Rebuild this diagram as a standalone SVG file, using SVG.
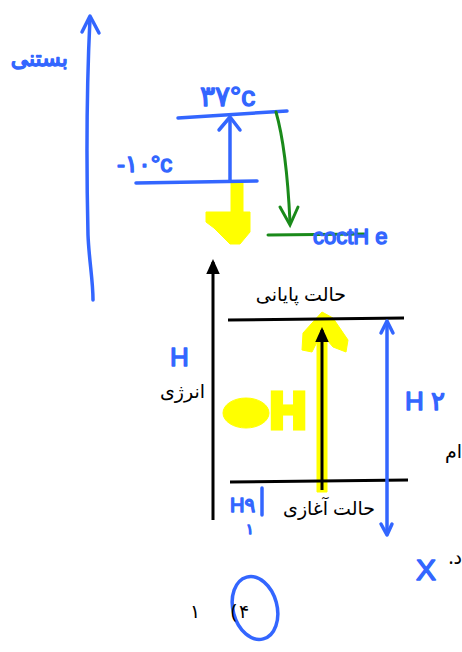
<svg xmlns="http://www.w3.org/2000/svg" width="462" height="652" viewBox="0 0 462 652">
<style>
.ink{fill:none;stroke:#3366ff;stroke-width:3.5;stroke-linecap:round;stroke-linejoin:round}
.grn{fill:none;stroke:#1a8a1a;stroke-width:3;stroke-linecap:round}
.blk{fill:none;stroke:#000;stroke-width:3}
.hand{font-family:"Liberation Sans","DejaVu Sans",sans-serif;fill:#3366ff;stroke:#3366ff;stroke-width:1.4;stroke-linejoin:round}
.fa{font-family:"Noto Sans","DejaVu Sans",sans-serif;fill:#000;font-size:19px}
.yel{fill:#ffff00;stroke:#ffff00}
</style>
<defs>
<marker id="ab" viewBox="0 0 10 10" refX="8" refY="5" markerWidth="5" markerHeight="5" orient="auto"><path d="M0,0.5 L10,5 L0,9.5 z" fill="#000"/></marker>
</defs>
<rect width="462" height="652" fill="#fff"/>

<g id="highlights">
<path class="yel" d="M231,183 L243,183 L243,212 L250,212 L250,232 L240,244 L230,244 L214,228 L206,222 L206,212 L231,212 z" stroke-width="1"/>
<path class="yel" d="M317,330 L327,330 L327,492 L317,492 z" stroke-width="1"/>
<path class="yel" d="M322,312 L333,318 L348,340 L346,352 L333,347 L327,340 L318,340 L312,352 L302,350 L303,333 z" stroke-width="1"/>
<ellipse class="yel" cx="246" cy="413" rx="23" ry="15"/>
<text x="270" y="428" style="font-family:'Liberation Sans',sans-serif;font-weight:bold;font-size:50px" class="yel" stroke-width="5">H</text>
</g>

<g id="connectors">
<path class="ink" d="M90,18 C87,80 86,150 88,235 C89,260 93,280 93,300"/>
<path class="ink" d="M82,32 L90,16 L99,33"/>
<path class="ink" d="M178,118 L287,111"/>
<path class="ink" d="M136,183 L257,181"/>
<path class="ink" d="M230,180 L230,120"/>
<path class="ink" d="M219,130 L230,117 L240,130"/>
<path class="grn" d="M276,112 C284,140 288,180 290,222"/>
<path class="grn" d="M280,207 L290,225 L298,207"/>
<path class="grn" d="M268,235 L365,234"/>
<path class="blk" d="M213,520 L213,262" marker-end="url(#ab)"/>
<path class="blk" d="M322,490 L322,330" marker-end="url(#ab)"/>
<path class="blk" stroke-width="2.2" d="M228,320 L404,318"/>
<path class="blk" stroke-width="2.2" d="M230,482 L408,480"/>
<path class="ink" stroke-width="2.5" d="M387,322 L387,534"/>
<path class="ink" stroke-width="2.5" d="M381,333 L387,321 L393,333"/>
<path class="ink" stroke-width="2.5" d="M381,524 L387,535 L392,524"/>
<path class="ink" stroke-width="2.5" d="M262,488 L262,515"/>
<ellipse class="ink" stroke-width="2.5" cx="255" cy="608" rx="22" ry="32" transform="rotate(-15 255 608)"/>
</g>

<g id="labels">
<text class="hand" x="68" y="66" font-size="22" direction="rtl">بستنی</text>
<text class="hand" x="200" y="106" font-size="28">۳۷°c</text>
<text class="hand" x="117" y="172" font-size="24">-۱۰°c</text>
<text class="hand" x="313" y="244" font-size="22">coctH e</text>
<text class="hand" x="170" y="366" font-size="26">H</text>
<text class="hand" x="405" y="410" font-size="26">H ۲</text>
<text class="hand" x="230" y="512" font-size="20">H۹</text>
<text class="hand" x="246" y="534" font-size="14">۱</text>
<text class="hand" x="416" y="580" font-size="30">X</text>
<text class="fa" x="346" y="301" direction="rtl">حالت پایانی</text>
<text class="fa" x="205" y="398" direction="rtl">انرژی</text>
<text class="fa" x="375" y="515" direction="rtl">حالت آغازی</text>
<text class="fa" x="462" y="458" direction="rtl">ام</text>
<text class="fa" x="462" y="564" direction="rtl">د.</text>
<text class="fa" x="190" y="618" font-size="22">۱</text>
<text class="fa" x="231" y="618" font-size="22">(</text>
<text class="fa" x="239" y="618" font-size="22">۴</text>
</g>
</svg>
